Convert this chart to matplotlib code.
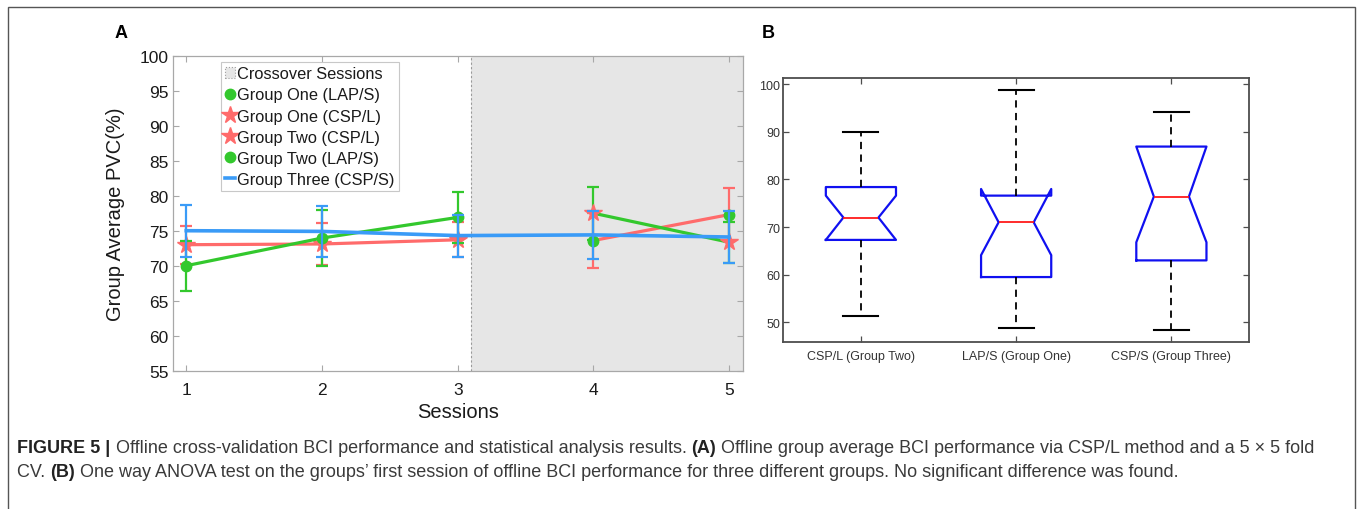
import matplotlib
matplotlib.use('Agg')
import matplotlib.pyplot as plt
from matplotlib.patches import Patch, Rectangle
from matplotlib.lines import Line2D

plt.rcParams['font.family'] = ['Liberation Sans', 'DejaVu Sans']

# ---------------- Panel A data ----------------
sessions_pre = [1, 2, 3]
sessions_post = [4, 5]
sessions_all = [1, 2, 3, 4, 5]
a_xticks = [1, 2, 3, 4, 5]
a_yticks = [55, 60, 65, 70, 75, 80, 85, 90, 95, 100]

g1_pre_mean = [70.0, 73.95, 76.9]     # Group One (LAP/S)
g1_pre_err = [3.6, 3.95, 3.7]
g2_pre_mean = [73.0, 73.1, 73.7]      # Group Two (CSP/L)
g2_pre_err = [2.7, 3.0, 2.5]
g1_post_mean = [77.5, 73.35]          # Group One (CSP/L)
g1_post_err = [3.8, 2.95]
g2_post_mean = [73.6, 77.3]           # Group Two (LAP/S)
g2_post_err = [3.9, 3.75]
g3_mean = [75.0, 74.9, 74.3, 74.4, 74.1]   # Group Three (CSP/S)
g3_err = [3.7, 3.67, 3.0, 3.4, 3.7]

crossover_span = (3.1, 5.1)
legend_labels = ['Crossover Sessions', 'Group One (LAP/S)', 'Group One (CSP/L)',
                 'Group Two (CSP/L)', 'Group Two (LAP/S)', 'Group Three (CSP/S)']

# ---------------- Panel B data ----------------
box_labels = ['CSP/L (Group Two)', 'LAP/S (Group One)', 'CSP/S (Group Three)']
box_whislo = [51.4, 48.8, 48.3]
box_q1 = [67.3, 59.5, 63.0]
box_med = [72.0, 71.0, 76.4]
box_q3 = [78.4, 76.6, 86.9]
box_whishi = [90.0, 98.7, 94.1]
box_cilo = [67.3, 64.1, 66.8]
box_cihi = [76.6, 78.0, 86.9]
b_yticks = [50, 60, 70, 80, 90, 100]

GREEN = '#33C82D'
RED = '#FF6B6B'
BLUE = '#3A9BF7'
W, H = 1358, 510

fig = plt.figure(figsize=(W / 100, H / 100), dpi=100)

# border frame
fig.patches.append(Rectangle((7.5 / W, -0.05), (1355 - 7.5) / W, 1.05 - 7.5 / H,
                             transform=fig.transFigure, fill=False,
                             edgecolor='#555555', lw=1.0))

# ================= Panel A =================
axA = fig.add_axes([172.7 / W, 1 - 371.7 / H, (742.7 - 172.7) / W, (371.7 - 56.7) / H])
axA.axvspan(*crossover_span, facecolor='#e6e6e6', edgecolor='none', zorder=0)
axA.axvline(crossover_span[0], color='#9a9a9a', ls=(0, (2, 2)), lw=0.8, zorder=0.5)

lw_line, lw_err, cap = 2.3, 1.6, 4.5
axA.errorbar(sessions_pre, g1_pre_mean, yerr=g1_pre_err, color=GREEN, lw=lw_line,
             elinewidth=lw_err, capsize=cap, capthick=lw_err, marker='o', ms=7.5,
             mfc=GREEN, mec=GREEN, zorder=3)
axA.errorbar(sessions_pre, g2_pre_mean, yerr=g2_pre_err, color=RED, lw=lw_line,
             elinewidth=lw_err, capsize=cap, capthick=lw_err, marker='*', ms=13,
             mfc=RED, mec=RED, zorder=2)
axA.errorbar(sessions_post, g1_post_mean, yerr=g1_post_err, color=GREEN, lw=lw_line,
             elinewidth=lw_err, capsize=cap, capthick=lw_err, marker='*', ms=13,
             mfc=RED, mec=RED, zorder=3)
axA.errorbar(sessions_post, g2_post_mean, yerr=g2_post_err, color=RED, lw=lw_line,
             elinewidth=lw_err, capsize=cap, capthick=lw_err, marker='o', ms=7.5,
             mfc=GREEN, mec=GREEN, zorder=2)
axA.errorbar(sessions_all, g3_mean, yerr=g3_err, color=BLUE, lw=2.6,
             elinewidth=lw_err, capsize=cap, capthick=lw_err, zorder=4)

axA.set_xlim(0.9, 5.1)
axA.set_ylim(55, 100)
axA.set_xticks(a_xticks)
axA.set_yticks(a_yticks)
for s in axA.spines.values():
    s.set_color('#a8a8a8')
    s.set_linewidth(0.9)
axA.tick_params(direction='in', top=True, right=True, length=4, width=0.8,
                color='#a8a8a8', labelsize=12.5, labelcolor='#1a1a1a')
axA.tick_params(axis='x', pad=8)
axA.tick_params(axis='y', pad=3)
axA.set_xlabel('Sessions', fontsize=14.5, color='#1a1a1a')
axA.set_ylabel('Group Average PVC(%)', fontsize=14.5, color='#1a1a1a')
axA.xaxis.set_label_coords(0.5, -0.1)
axA.yaxis.set_label_coords(-0.084, 0.5)

handles = [
    Patch(facecolor='#e6e6e6', edgecolor='#a0a0a0', linestyle=':', lw=0.8),
    Line2D([], [], ls='none', marker='o', ms=7.5, color=GREEN),
    Line2D([], [], ls='none', marker='*', ms=13, color=RED),
    Line2D([], [], ls='none', marker='*', ms=13, color=RED),
    Line2D([], [], ls='none', marker='o', ms=7.5, color=GREEN),
    Line2D([], [], ls='-', lw=2.6, color=BLUE),
]
leg = axA.legend(handles, legend_labels, loc='upper left',
                 bbox_to_anchor=((220.7 - 172.7) / 570, (371.7 - 63.3) / 315),
                 borderaxespad=0, fontsize=11.8, frameon=True, fancybox=False,
                 edgecolor='#c8c8c8', framealpha=1, handlelength=0.65,
                 handletextpad=0.1, borderpad=0.25, labelspacing=0.37)
leg.get_frame().set_linewidth(0.8)
for t in leg.get_texts():
    t.set_color('#1a1a1a')

# ================= Panel B =================
axB = fig.add_axes([783.3 / W, 1 - 343.3 / H, (1249 - 783.3) / W, (343.3 - 79) / H])
stats = []
for i in range(len(box_labels)):
    stats.append(dict(med=box_med[i], q1=box_q1[i], q3=box_q3[i],
                      whislo=box_whislo[i], whishi=box_whishi[i],
                      cilo=box_cilo[i], cihi=box_cihi[i], fliers=[],
                      label=box_labels[i]))
axB.bxp(stats, positions=[1, 2, 3], widths=0.452, capwidths=0.226,
        shownotches=True, showfliers=False,
        boxprops=dict(color='#1010F0', lw=1.6),
        medianprops=dict(color='#FF1A1A', lw=1.3),
        whiskerprops=dict(color='black', lw=1.3, ls=(0, (4, 3))),
        capprops=dict(color='black', lw=1.5))
axB.set_xlim(0.5, 3.5)
axB.set_ylim(45.8, 101.3)
axB.set_yticks(b_yticks)
for s in axB.spines.values():
    s.set_color('#4d4d4d')
    s.set_linewidth(1.3)
axB.tick_params(direction='in', top=True, right=True, length=4, width=0.9,
                color='#4d4d4d', labelsize=9, labelcolor='#333333')
axB.tick_params(axis='x', pad=5.5)
axB.tick_params(axis='y', pad=2)

# panel labels
fig.text(121.5 / W, 1 - 33 / H, 'A', fontsize=13, fontweight='bold', ha='center', va='center')
fig.text(768 / W, 1 - 33 / H, 'B', fontsize=13, fontweight='bold', ha='center', va='center')

# caption
renderer = fig.canvas.get_renderer()


def text_width(s, weight, size):
    t1 = fig.text(0, 0, '|' + s + '|', fontsize=size, fontweight=weight)
    t2 = fig.text(0, 0, '||', fontsize=size, fontweight=weight)
    w = t1.get_window_extent(renderer).width - t2.get_window_extent(renderer).width
    t1.remove()
    t2.remove()
    return w


def rich_line(x_px, y_px, parts, size):
    x = x_px
    for s, bold in parts:
        weight = 'bold' if bold else 'normal'
        fig.text(x / W, 1 - y_px / H, s, fontsize=size, fontweight=weight,
                 color='#222222' if bold else '#3a3a3a', ha='left', va='baseline')
        x += text_width(s, weight, size)


line1 = [
    ('FIGURE 5 |', True),
    (' Offline cross-validation BCI performance and statistical analysis results. ', False),
    ('(A)', True),
    (' Offline group average BCI performance via CSP/L method and a 5 \u00d7 5 fold', False),
]
line2 = [
    ('CV. ', False),
    ('(B)', True),
    (' One way ANOVA test on the groups\u2019 first session of offline BCI performance '
     'for three different groups. No significant difference was found.', False),
]
# fit the first caption line to the width it spans in the reference
base = 10.0
w_base = sum(text_width(s, 'bold' if b else 'normal', base) for s, b in line1)
cap_size = base * (1322 - 17.3) / w_base

rich_line(17.3, 453.3, line1, cap_size)
rich_line(17.3, 477.3, line2, cap_size)

fig.savefig('out.png', dpi=100)
